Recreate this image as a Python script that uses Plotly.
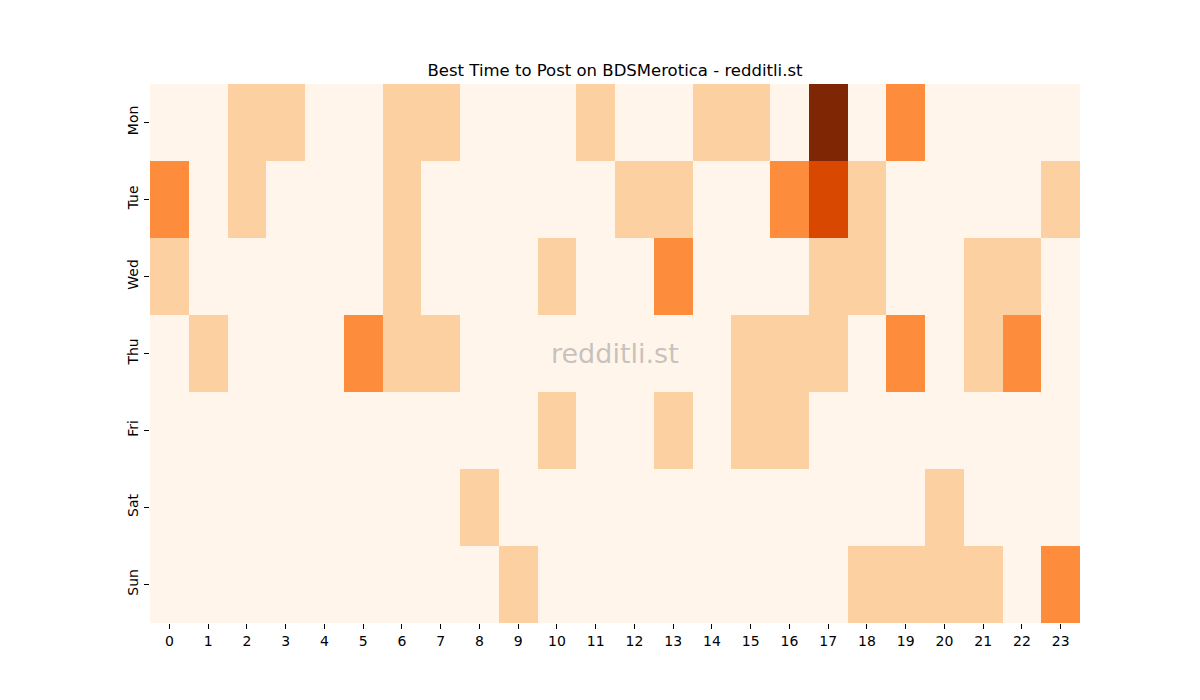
import plotly.graph_objects as go

days = ["Mon", "Tue", "Wed", "Thu", "Fri", "Sat", "Sun"]
hours = list(range(24))

mon = [0,0,1,1,0,0,1,1,0,0,0,1,0,0,1,1,0,4,0,2,0,0,0,0]
tue = [2,0,1,0,0,0,1,0,0,0,0,0,1,1,0,0,2,3,1,0,0,0,0,1]
wed = [1,0,0,0,0,0,1,0,0,0,1,0,0,2,0,0,0,1,1,0,0,1,1,0]
thu = [0,1,0,0,0,2,1,1,0,0,0,0,0,0,0,1,1,1,0,2,0,1,2,0]
fri = [0,0,0,0,0,0,0,0,0,0,1,0,0,1,0,1,1,0,0,0,0,0,0,0]
sat = [0,0,0,0,0,0,0,0,1,0,0,0,0,0,0,0,0,0,0,0,1,0,0,0]
sun = [0,0,0,0,0,0,0,0,0,1,0,0,0,0,0,0,0,0,1,1,1,1,0,2]

z = [mon, tue, wed, thu, fri, sat, sun]

fig = go.Figure(go.Heatmap(
    z=z, x=hours, y=days,
    colorscale="Oranges", zmin=0, zmax=4,
    showscale=False, xgap=0, ygap=0, hoverongaps=False,
))

fig.update_layout(
    width=1200, height=700,
    margin=dict(l=142, r=128, t=76, b=85),
    paper_bgcolor="white", plot_bgcolor="white",
    font=dict(family="DejaVu Sans", size=14, color="black"),
    title=dict(text="Best Time to Post on BDSMerotica - redditli.st",
               xref="paper", x=0.5, xanchor="center", y=1 - 62/700, yanchor="middle",
               font=dict(size=16.5, color="black")),
    xaxis=dict(tickmode="array", tickvals=hours, ticktext=[str(h) for h in hours],
               ticks="outside", ticklen=5, tickcolor="black", showgrid=False,
               zeroline=False, showline=False, range=[-0.5, 23.5]),
    yaxis=dict(autorange="reversed", ticks="outside", ticklen=5, tickcolor="black",
               tickangle=-90, showgrid=False, zeroline=False, showline=False),
    annotations=[dict(text="redditli.st", x=0.5, y=0.5, xref="paper", yref="paper",
                      showarrow=False, font=dict(size=27, color="rgba(150,150,150,0.55)"))],
)

fig.write_html("out.html")
